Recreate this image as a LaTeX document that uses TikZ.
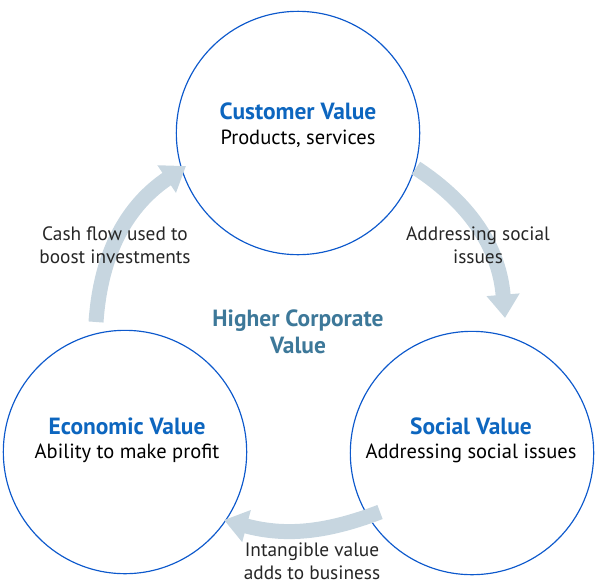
\documentclass[tikz,border=0pt]{standalone}
\usepackage{fontspec}
\setmainfont{PT Sans}
\usetikzlibrary{arrows.meta}
\definecolor{valueblue}{rgb}{0.05,0.40,0.75}
\definecolor{ringblue}{rgb}{0.05,0.35,0.80}
\definecolor{steelblue}{rgb}{0.24,0.47,0.60}
\definecolor{palearrow}{rgb}{0.78,0.84,0.88}
\tikzset{
  ring/.style={
    circle,
    draw=ringblue,
    line width=1pt,
    minimum size=7.3cm,
    inner sep=0pt
  },
  title/.style={
    font=\fontsize{20}{22}\selectfont\bfseries,
    text=valueblue
  },
  sub/.style={
    font=\fontsize{17.5}{20}\selectfont,
    text=black
  },
  note/.style={
    align=center,
    font=\fontsize{16.5}{20}\selectfont,
    text=black!85
  },
  flow/.style={
    -{Triangle[width=9.5mm,length=7mm]},
    line width=4.5mm,
    palearrow
  }
}

\begin{document}
\begin{tikzpicture}[x=0.03cm,y=-0.03cm]
\useasboundingbox (0,0) rectangle (600,586);
% the three values
\node[ring] (customer) at (298,133) {};
\node[ring] (economic) at (125,452) {};
\node[ring] (social) at (472,453) {};
\node[title] (customerT) at (298,111) {Customer Value};
\node[sub] (customerS) at (298,139) {Products, services};
\node[title] (economicT) at (127,426) {Economic Value};
\node[sub] (economicS) at (127,453) {Ability to make profit};
\node[title] (socialT) at (471,426) {Social Value};
\node[sub] (socialS) at (471,453) {Addressing social issues};
\node[align=center,font=\fontsize{20}{23}\selectfont\bfseries,text=steelblue] (center) at (298,332) {Higher Corporate\\Value};
% arrows between the values
\coordinate (c1) at (416,168);
\coordinate (s1) at (505,318);
\coordinate (s2) at (380,512);
\coordinate (e1) at (224,520);
\coordinate (e2) at (96,322);
\coordinate (c2) at (186,166);
\draw[flow] (c1) to[bend left=26] (s1);
\draw[flow] (s2) to[bend left=18] (e1);
\draw[flow] (e2) to[bend left=26] (c2);
% labels
\node[note] (toSocial) at (478,245) {Addressing social\\issues};
\node[note] (toEconomic) at (312,561) {Intangible value\\adds to business};
\node[note] (toCustomer) at (115,245) {Cash flow used to\\boost investments};
\end{tikzpicture}
\end{document}
